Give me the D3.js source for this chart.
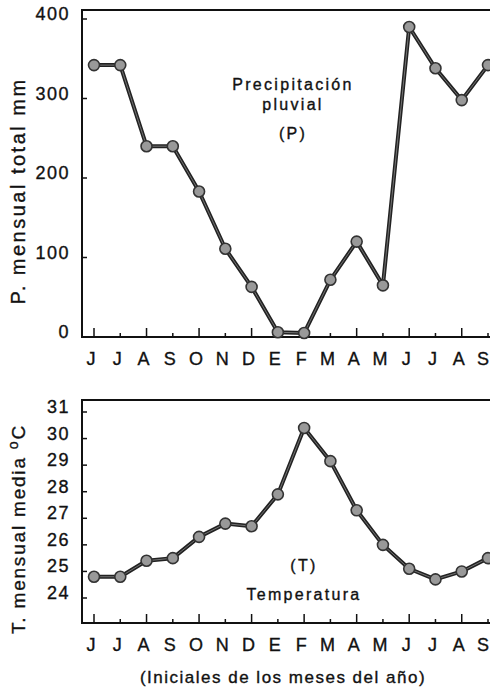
<!DOCTYPE html>
<html>
<head>
<meta charset="utf-8">
<script src="https://cdn.jsdelivr.net/npm/d3@7"></script>
<style>
  body { margin: 0; background: #fff; }
  svg { display: block; font-family: "Liberation Sans", Arial, sans-serif; }
  text { fill: #111; stroke: #111; stroke-width: 0.35px; }
</style>
</head>
<body>
<div id="chart"></div>
<script>
// month initials, starting in June
const months = ['J', 'J', 'A', 'S', 'O', 'N', 'D', 'E', 'F', 'M', 'A', 'M', 'J', 'J', 'A', 'S'];
// monthly total rainfall (mm)
const precip = [342, 342, 240, 240, 183, 111, 63, 6, 5, 72, 120, 65, 390, 338, 298, 342];
// monthly mean temperature (deg C)
const temp = [24.8, 24.8, 25.4, 25.5, 26.3, 26.8, 26.7, 27.9, 30.4, 29.15, 27.3, 26.0, 25.1, 24.7, 25.0, 25.5];
const precipTicks = [0, 100, 200, 300, 400];
const tempTicks = [24, 25, 26, 27, 28, 29, 30, 31];

const width = 490;
const height = 687;
const left = 82;
const right = 490;

const svg = d3.select('#chart')
    .append('svg')
    .attr('width', width)
    .attr('height', height);

// shared month scale
const x = d3.scaleLinear()
    .domain([0, months.length - 1])
    .range([94, 488]);

function drawPanel(opts) {
    const g = svg.append('g');
    const y = opts.y;

    // frame: top, left, bottom
    g.append('path')
        .attr('d', `M${right},${opts.top}H${left}V${opts.bottom}H${right}`)
        .attr('fill', 'none')
        .attr('stroke', '#111')
        .attr('stroke-width', 2);

    // y ticks (inside) and labels
    opts.ticks.forEach(t => {
        g.append('line')
            .attr('x1', left).attr('x2', left + 5)
            .attr('y1', y(t)).attr('y2', y(t))
            .attr('stroke', '#111')
            .attr('stroke-width', 1.5);
        g.append('text')
            .attr('x', 70)
            .attr('y', y(t) + 1)
            .attr('text-anchor', 'end')
            .style('font-size', '18px')
            .style('letter-spacing', '1.5px')
            .text(t);
    });

    // month ticks, alternating long and short
    months.forEach((m, i) => {
        g.append('line')
            .attr('x1', x(i)).attr('x2', x(i))
            .attr('y1', opts.bottom).attr('y2', opts.bottom - (i % 2 === 0 ? 9 : 4))
            .attr('stroke', '#111')
            .attr('stroke-width', 1.5);
        g.append('text')
            .attr('x', Math.min(x(i) - 3, width - 7))
            .attr('y', opts.bottom + 28)
            .attr('text-anchor', 'middle')
            .style('font-size', '18px')
            .text(m);
    });

    // series line, drawn as a dark stroke with a light core
    const line = d3.line()
        .x((d, i) => x(i))
        .y(d => y(d));

    g.append('path')
        .datum(opts.values)
        .attr('d', line)
        .attr('fill', 'none')
        .attr('stroke', '#222')
        .attr('stroke-width', 4)
        .attr('stroke-linejoin', 'round');

    g.append('path')
        .datum(opts.values)
        .attr('d', line)
        .attr('fill', 'none')
        .attr('stroke', '#888')
        .attr('stroke-width', 0.8);

    // markers
    g.selectAll('.pt')
        .data(opts.values)
        .enter()
        .append('circle')
        .attr('class', 'pt')
        .attr('cx', (d, i) => x(i))
        .attr('cy', d => y(d))
        .attr('r', 5.5)
        .attr('fill', '#999')
        .attr('stroke', '#333')
        .attr('stroke-width', 1.6);

    // rotated y title
    const title = g.append('text')
        .attr('transform', `translate(25,${opts.titleY}) rotate(-90)`)
        .attr('text-anchor', 'middle')
        .style('font-size', opts.titleSize)
        .style('letter-spacing', opts.titleSpacing);
    opts.title(title);

    // inner labels
    opts.notes.forEach(n => {
        g.append('text')
            .attr('x', n.x)
            .attr('y', n.y)
            .attr('text-anchor', 'middle')
            .style('font-size', '16px')
            .style('letter-spacing', '2.3px')
            .text(n.text);
    });
}

// precipitation panel
drawPanel({
    top: 10,
    bottom: 337,
    y: d3.scaleLinear().domain([0, 400]).range([337, 19]),
    ticks: precipTicks,
    values: precip,
    titleY: 191,
    titleSize: '20px',
    titleSpacing: '2.5px',
    title: t => t.text('P. mensual total mm'),
    notes: [
        { text: 'Precipitación', x: 293, y: 90 },
        { text: 'pluvial', x: 293, y: 110 },
        { text: '(P)', x: 293, y: 139 }
    ]
});

// temperature panel
drawPanel({
    top: 400,
    bottom: 623,
    y: d3.scaleLinear().domain([24, 31]).range([598, 412]),
    ticks: tempTicks,
    values: temp,
    titleY: 529,
    titleSize: '19px',
    titleSpacing: '1.8px',
    title: t => {
        t.append('tspan').text('T. mensual media ');
        t.append('tspan').attr('dy', -7).style('font-size', '14px').text('o');
        t.append('tspan').attr('dy', 7).text('C');
    },
    notes: [
        { text: '(T)', x: 304, y: 571 },
        { text: 'Temperatura', x: 304, y: 600 }
    ]
});

// x axis caption
svg.append('text')
    .attr('x', 283)
    .attr('y', 683)
    .attr('text-anchor', 'middle')
    .style('font-size', '17px')
    .style('letter-spacing', '1.5px')
    .text('(Iniciales de los meses del año)');
</script>
</body>
</html>
